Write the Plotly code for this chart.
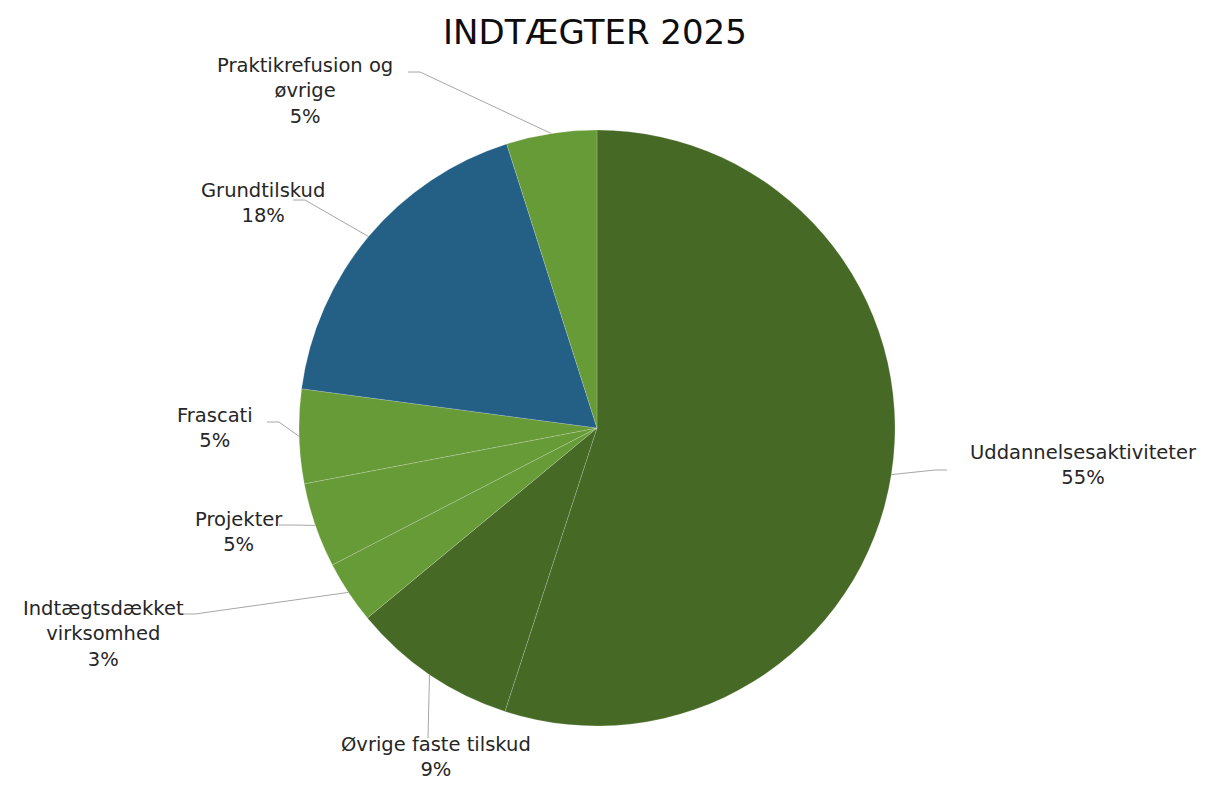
import math
import plotly.graph_objects as go

# ---- data ----
categories = ["Uddannelsesaktiviteter", "Øvrige faste tilskud", "Indtægtsdækket virksomhed",
              "Projekter", "Frascati", "Grundtilskud", "Praktikrefusion og øvrige"]
label_text = ["Uddannelsesaktiviteter", "Øvrige faste tilskud", "Indtægtsdækket<br>virksomhed",
              "Projekter", "Frascati", "Grundtilskud", "Praktikrefusion og<br>øvrige"]
values = [55.0, 9.0, 3.4, 4.6, 5.1, 18.0, 4.9]

# ---- style / layout ----
DARK = "#466a26"
LIGHT = "#679b38"
BLUE = "#245f86"
colors = [DARK, DARK, LIGHT, LIGHT, LIGHT, BLUE, LIGHT]

W, H = 1207, 785
CX, CY, R = 597, 428, 298
# label centre (px) and elbow point (px) for each leader line
label_pos = [(1083, 465), (436, 757), (103, 634), (239, 532), (215, 428), (263, 203), (305, 91)]
elbow_pos = [(935, 470), (428, 738), (195, 614), (291, 525), (279, 422), (305, 200), (420, 72)]
FONT = "DejaVu Sans"

fig = go.Figure(go.Pie(
    labels=categories, values=values, sort=False, direction="clockwise", rotation=0,
    marker=dict(colors=colors, line=dict(color="rgba(255,255,255,0.25)", width=0.7)),
    textinfo="none", hoverinfo="label+percent", showlegend=False,
    domain=dict(x=[(CX - R) / W, (CX + R) / W], y=[1 - (CY + R) / H, 1 - (CY - R) / H]),
))

total = sum(values)
cum = 0.0
shapes, annotations = [], []
for i, v in enumerate(values):
    mid = (cum + v / 2) / total * 2 * math.pi
    cum += v
    ex, ey = CX + R * math.sin(mid), CY - R * math.cos(mid)
    bx, by = elbow_pos[i]
    lx, ly = label_pos[i]
    path = f"M {ex/W},{1-ey/H} L {bx/W},{1-by/H}"
    if i != 1:
        hx = bx + (12 if lx > bx else -12) if abs(lx - bx) > 40 else bx
        path = f"M {ex/W},{1-ey/H} L {bx/W},{1-by/H} L {hx/W},{1-by/H}"
    shapes.append(dict(type="path", xref="paper", yref="paper", path=path,
                       line=dict(color="#a6a6a6", width=1)))
    pct = f"{v / total * 100:.0f}%"
    annotations.append(dict(text=f"{label_text[i]}<br>{pct}", x=lx / W, y=1 - ly / H,
                            xref="paper", yref="paper", xanchor="center", yanchor="middle",
                            showarrow=False, align="center",
                            font=dict(family=FONT, size=19.5, color="#262626")))

annotations.append(dict(text="INDTÆGTER 2025", x=595 / W, y=1 - 32 / H, xref="paper", yref="paper",
                        xanchor="center", yanchor="middle", showarrow=False,
                        font=dict(family=FONT, size=34, color="#0d0d0d")))

fig.update_layout(width=W, height=H, margin=dict(l=0, r=0, t=0, b=0),
                  paper_bgcolor="white", plot_bgcolor="white",
                  shapes=shapes, annotations=annotations)
fig.write_html("out.html", config={"displayModeBar": False},
               post_script="document.body.style.margin='0px';")
